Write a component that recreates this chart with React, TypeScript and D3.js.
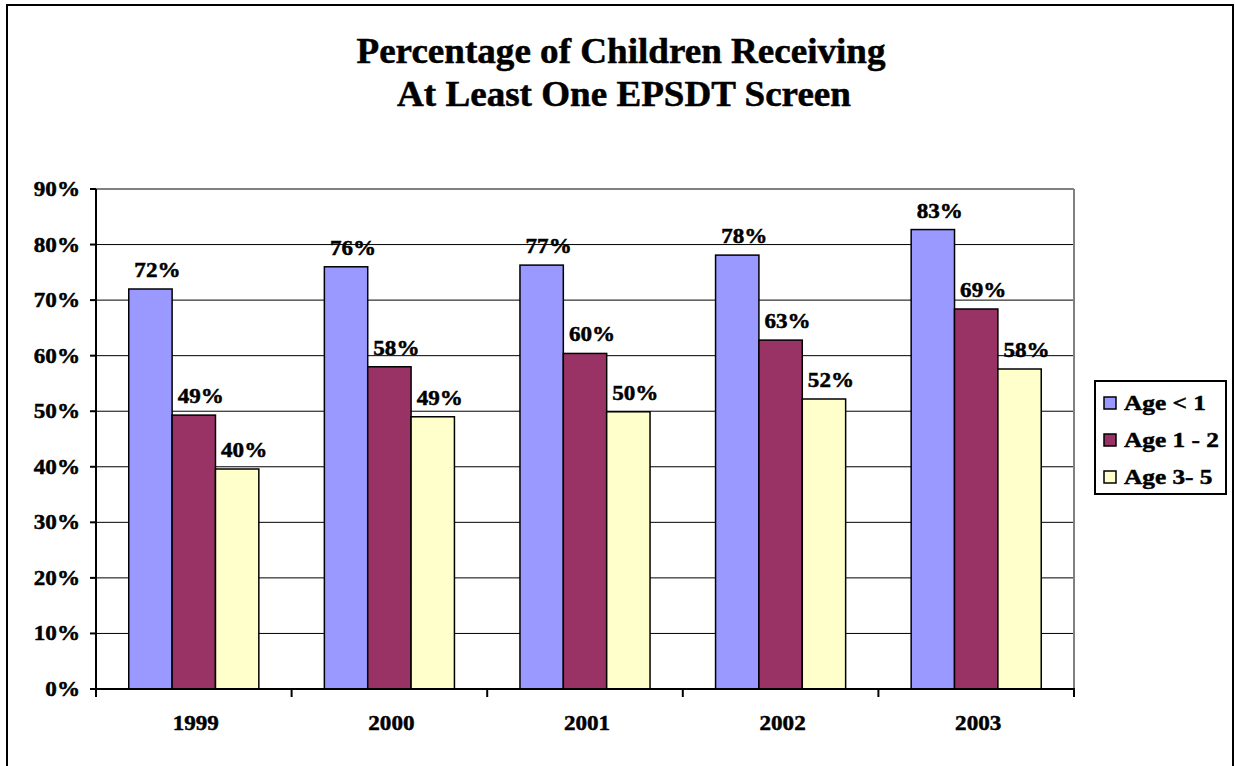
import React from "react";
import * as d3 from "d3";

const years = ["1999", "2000", "2001", "2002", "2003"];
const seriesNames = ["Age < 1", "Age 1 - 2", "Age 3- 5"];
const ageUnder1 = [72.0, 76.0, 76.3, 78.1, 82.7];
const age1to2 = [49.3, 58.0, 60.4, 62.8, 68.4];
const age3to5 = [39.6, 49.0, 49.9, 52.2, 57.6];
const labelsUnder1 = ["72%", "76%", "77%", "78%", "83%"];
const labels1to2 = ["49%", "58%", "60%", "63%", "69%"];
const labels3to5 = ["40%", "49%", "50%", "52%", "58%"];
const yTicks = [0, 10, 20, 30, 40, 50, 60, 70, 80, 90];
const colors = ["#9999FF", "#993366", "#FFFFCC"];

const W = 1235;
const H = 766;
const plot = { left: 96, right: 1074, top: 189, bottom: 689 };
const FONT = "'Liberation Serif', 'Times New Roman', serif";

function T(props: { x: number; y: number; size: number; sx: number; anchor?: string; children: React.ReactNode }) {
  return (
    <text
      transform={`translate(${props.x},${props.y}) scale(${props.sx},1)`}
      textAnchor={props.anchor || "start"}
      fontSize={props.size}
      fontWeight="bold"
      fill="#000"
      stroke="#000"
      strokeWidth={0.5}
    >
      {props.children}
    </text>
  );
}

export default function App() {
  const series = [ageUnder1, age1to2, age3to5];
  const labels = [labelsUnder1, labels1to2, labels3to5];
  const x = d3.scaleBand<string>().domain(years).range([plot.left, plot.right]).paddingInner(0).paddingOuter(0);
  const y = d3.scaleLinear().domain([0, 90]).range([plot.bottom, plot.top]);
  const bw = x.bandwidth();
  const groupW = bw * 0.665;
  const barW = groupW / 3;

  return (
    <svg width={W} height={H} style={{ position: "absolute", left: 0, top: 0, background: "#fff" }} fontFamily={FONT}>
      <rect x={7} y={5} width={1226} height={H + 10} fill="#fff" stroke="#000" strokeWidth={2} />
      <T x={621} y={63} size={35} sx={1.06} anchor="middle">Percentage of Children Receiving</T>
      <T x={624} y={106} size={35} sx={1.06} anchor="middle">At Least One EPSDT Screen</T>

      {yTicks.filter((t) => t > 0 && t < 90).map((t) => (
        <line key={"g" + t} x1={plot.left} x2={plot.right} y1={y(t)} y2={y(t)} stroke="#000" strokeWidth={1} />
      ))}
      <line x1={plot.left} x2={plot.right} y1={plot.top} y2={plot.top} stroke="#808080" strokeWidth={2} />
      <line x1={plot.right} x2={plot.right} y1={plot.top} y2={plot.bottom} stroke="#808080" strokeWidth={2} />

      {years.map((yr, i) => {
        const gx = (x(yr) as number) + (bw - groupW) / 2;
        return series.map((s, j) => (
          <rect key={yr + j} x={gx + j * barW} y={y(s[i])} width={barW} height={plot.bottom - y(s[i])}
            fill={colors[j]} stroke="#000" strokeWidth={1.5} />
        ));
      })}
      {years.map((yr, i) => {
        const gx = (x(yr) as number) + (bw - groupW) / 2;
        return series.map((s, j) => (
          <T key={"l" + yr + j} x={gx + j * barW + barW / 2 + 7} y={y(s[i]) - 12} size={22} sx={1.05} anchor="middle">
            {labels[j][i]}
          </T>
        ));
      })}

      <line x1={plot.left} x2={plot.left} y1={plot.top} y2={plot.bottom + 1} stroke="#000" strokeWidth={2} />
      <line x1={plot.left - 1} x2={plot.right + 1} y1={plot.bottom} y2={plot.bottom} stroke="#000" strokeWidth={2} />
      {yTicks.map((t) => (
        <g key={"t" + t}>
          <line x1={plot.left - 6} x2={plot.left} y1={y(t)} y2={y(t)} stroke="#000" strokeWidth={2} />
          <T x={80} y={y(t) + 7} size={22} sx={1.05} anchor="end">{t}%</T>
        </g>
      ))}
      {years.concat(["end"]).map((yr, i) => {
        const xx = plot.left + i * bw;
        return <line key={"xt" + i} x1={xx} x2={xx} y1={plot.bottom} y2={plot.bottom + 8} stroke="#000" strokeWidth={2} />;
      })}
      {years.map((yr) => (
        <T key={"y" + yr} x={(x(yr) as number) + bw / 2 + 2} y={730} size={22} sx={1.05} anchor="middle">{yr}</T>
      ))}

      <rect x={1095} y={381} width={131} height={113} fill="#fff" stroke="#000" strokeWidth={2} />
      {seriesNames.map((n, j) => (
        <g key={"lg" + j}>
          <rect x={1104} y={397 + j * 37} width={12} height={12} fill={colors[j]} stroke="#000" strokeWidth={1.5} />
          <T x={1124} y={410 + j * 37} size={22} sx={1.15}>{n}</T>
        </g>
      ))}
    </svg>
  );
}
